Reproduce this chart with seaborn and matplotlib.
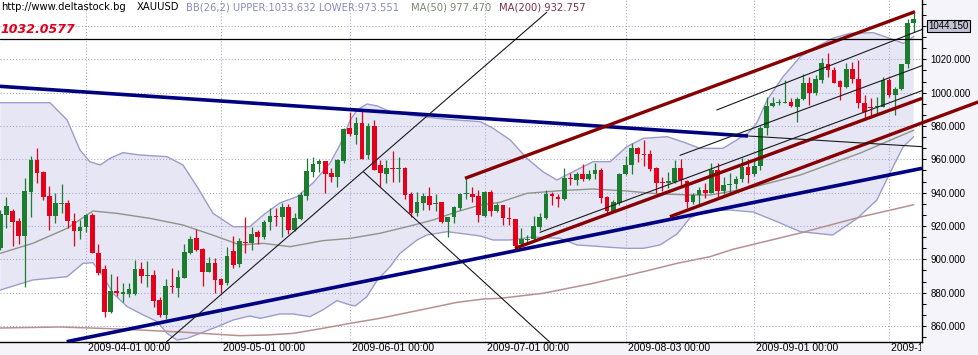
import matplotlib
matplotlib.use("Agg")
import matplotlib.pyplot as plt
import matplotlib.transforms as mtransforms
import numpy as np
import pandas as pd
import seaborn as sns

# ---------------- data ----------------
start_date = "2009-03-12"
n_days = 150

open_ = [906.6, 926.4, 929.0, 923.2, 914.2, 940.6, 959.6, 952.6, 938.0, 926.0,
         933.0, 934.0, 923.2, 917.2, 919.2, 926.6, 904.0, 894.2, 868.4, 881.2,
         879.2, 879.0, 879.0, 894.2, 890.2, 890.6, 875.6, 866.6, 884.0, 883.0,
         889.0, 903.6, 913.0, 906.2, 892.6, 898.0, 888.2, 886.0, 905.0, 897.0,
         910.6, 909.6, 916.6, 913.2, 922.6, 926.0, 925.6, 931.2, 917.6, 924.0,
         938.2, 952.6, 957.0, 959.0, 952.0, 949.6, 959.0, 978.6, 974.6, 981.6,
         962.6, 980.0, 956.6, 951.2, 954.6, 954.0, 954.6, 939.0, 928.0, 934.0,
         938.0, 933.0, 934.2, 922.2, 925.6, 931.0, 939.0, 939.0, 938.0, 926.0,
         940.6, 929.2, 932.6, 924.6, 924.0, 909.2, 911.6, 912.0, 919.6, 924.6,
         939.2, 937.6, 936.2, 948.6, 947.6, 951.2, 948.2, 951.0, 953.6, 937.2,
         929.2, 934.0, 951.0, 956.6, 966.6, 963.2, 963.2, 954.6, 946.6, 945.6,
         946.6, 954.6, 947.0, 934.6, 938.6, 941.6, 940.0, 953.6, 941.0, 944.6,
         945.0, 948.0, 955.6, 951.0, 956.0, 978.6, 992.0, 993.6, 994.0, 994.6,
         991.6, 996.0, 1005.6, 999.6, 1007.6, 1017.2, 1013.6, 1007.0, 1003.2, 1014.0,
         1008.2, 993.6, 991.6, 991.2, 991.6, 1007.6, 998.6, 1002.0, 1017.0, 1041.6]
high_ = [929.6, 937.6, 930.0, 924.6, 948.6, 962.0, 966.6, 953.2, 944.0, 940.0,
         945.2, 935.6, 927.6, 923.6, 927.2, 928.0, 909.0, 896.6, 891.2, 890.2,
         886.0, 886.0, 899.6, 898.2, 899.0, 893.6, 877.6, 888.2, 895.0, 893.6,
         909.2, 914.0, 918.2, 906.6, 901.6, 900.8, 888.6, 907.6, 914.0, 913.0,
         925.6, 919.6, 917.6, 923.6, 930.6, 930.6, 933.6, 933.2, 928.0, 940.6,
         961.0, 961.2, 960.0, 959.2, 954.6, 960.0, 978.6, 988.6, 985.2, 989.0,
         981.6, 983.6, 959.6, 959.6, 965.0, 961.2, 955.2, 940.6, 940.6, 939.6,
         943.2, 939.0, 934.6, 925.6, 932.0, 939.6, 948.0, 943.6, 941.6, 941.0,
         941.6, 933.6, 932.6, 931.6, 924.4, 918.6, 914.6, 926.0, 927.6, 941.6,
         940.6, 939.2, 954.6, 951.6, 952.6, 957.2, 953.6, 957.6, 954.6, 938.0,
         935.6, 952.0, 962.0, 969.6, 967.6, 971.6, 965.6, 955.2, 949.2, 952.6,
         959.6, 960.0, 947.6, 940.0, 943.6, 945.6, 957.6, 957.6, 949.6, 951.6,
         950.0, 960.6, 960.0, 960.0, 980.0, 997.6, 997.2, 996.0, 1007.6, 997.0,
         997.6, 1011.2, 1009.6, 1010.6, 1020.6, 1024.0, 1015.6, 1007.6, 1018.0, 1018.6,
         1019.6, 998.6, 996.6, 997.6, 1009.2, 1008.6, 1003.2, 1017.2, 1044.0, 1048.0]
low_ = [905.6, 918.6, 908.2, 909.2, 883.6, 925.6, 946.0, 935.6, 917.6, 921.6,
        927.6, 918.6, 908.2, 912.0, 916.6, 903.6, 890.6, 865.2, 867.6, 878.2,
        874.6, 877.6, 878.6, 885.6, 883.6, 871.6, 865.6, 864.2, 879.6, 877.6,
        888.6, 903.2, 905.2, 884.2, 892.2, 880.0, 880.0, 884.4, 895.0, 895.5,
        904.0, 905.6, 909.2, 912.0, 917.6, 920.2, 913.6, 915.2, 917.2, 923.6,
        935.6, 949.6, 952.6, 939.6, 946.6, 943.6, 957.6, 974.0, 969.2, 960.2,
        960.2, 953.6, 943.6, 946.0, 946.6, 946.6, 936.2, 925.6, 926.2, 929.6,
        929.6, 929.2, 922.0, 913.2, 922.0, 929.6, 936.0, 934.6, 922.6, 925.6,
        926.0, 928.6, 920.6, 920.6, 906.0, 908.0, 909.6, 911.6, 917.6, 924.0,
        932.6, 931.2, 935.6, 944.6, 944.6, 947.2, 947.6, 948.0, 934.0, 926.6,
        928.6, 932.6, 950.6, 951.0, 958.6, 956.0, 953.2, 940.0, 941.0, 942.6,
        945.6, 944.6, 930.6, 933.2, 933.2, 936.6, 939.6, 937.6, 939.0, 939.6,
        942.0, 946.6, 945.6, 950.0, 953.6, 974.6, 991.6, 992.6, 993.6, 991.6,
        982.6, 995.6, 992.6, 998.6, 1006.0, 1009.6, 1005.6, 995.6, 1002.6, 1005.6,
        990.6, 984.6, 985.6, 986.6, 991.2, 997.6, 986.6, 1001.6, 1014.6, 1036.2]
close_ = [927.2, 932.0, 922.6, 914.2, 941.0, 959.6, 951.6, 937.6, 926.0, 934.0,
          933.6, 923.2, 917.2, 919.6, 926.6, 904.0, 891.6, 868.6, 881.2, 880.0,
          880.4, 882.0, 894.2, 890.2, 890.6, 875.0, 866.6, 884.0, 883.2, 889.2,
          904.2, 912.0, 905.6, 892.6, 897.6, 887.6, 884.6, 902.2, 896.6, 911.0,
          910.0, 915.2, 913.2, 922.6, 926.0, 925.6, 931.6, 917.6, 924.6, 938.6,
          953.2, 957.2, 959.2, 951.2, 949.6, 959.6, 978.0, 975.0, 981.6, 960.2,
          980.0, 953.6, 951.6, 954.6, 954.0, 954.6, 938.6, 928.0, 934.2, 938.0,
          932.6, 933.6, 922.2, 925.6, 931.2, 939.0, 939.6, 937.6, 926.6, 940.6,
          929.2, 932.6, 924.6, 924.0, 908.0, 912.0, 912.2, 920.0, 925.6, 939.2,
          938.0, 936.0, 948.6, 948.0, 951.2, 948.0, 951.2, 953.6, 936.6, 929.2,
          934.6, 951.2, 956.6, 966.6, 963.0, 962.8, 954.0, 946.0, 945.6, 947.0,
          954.6, 947.6, 934.6, 938.6, 941.6, 940.0, 953.6, 941.2, 944.6, 945.2,
          948.2, 955.6, 950.6, 956.2, 978.6, 992.0, 993.6, 994.6, 994.6, 992.0,
          996.2, 1006.0, 999.6, 1008.0, 1017.6, 1013.6, 1006.0, 1003.6, 1014.0, 1008.0,
          993.6, 988.6, 990.6, 992.0, 1007.6, 998.6, 1002.0, 1017.0, 1042.0, 1044.15]

tick_dates = ["2009-04-01", "2009-05-01", "2009-06-01", "2009-07-01",
              "2009-08-03", "2009-09-01", "2009-10-01"]
tick_labels = [d + " 00:00" for d in tick_dates]
price_ticks = [860, 880, 900, 920, 940, 960, 980, 1000, 1020]
grid_prices = [860, 880, 900, 920, 940, 960, 980, 1000, 1020, 1040]

# Bollinger bands (26,2)
ub_x = [0, 8.1, 10.9, 13.0, 14.6, 16.3, 17.9, 20.0, 22.8, 27.2,
        29.8, 32.1, 34.7, 38.0, 40.7, 42.9, 45.6, 48.4, 51.0, 53.8,
        55.4, 57.1, 58.2, 59.8, 61.5, 63.6, 68.0, 72.9, 78.3, 80.4,
        83.2, 85.9, 88.5, 90.8, 92.9, 96.7, 99.5, 102.2, 104.9, 108.8,
        112.0, 114.1, 117.9, 122.0, 123.4, 125.1, 127.7, 130.5, 133.2, 135.8,
        138.6, 142.4, 145.1, 147.3, 149]
ub_y = [994.0, 994.0, 983.6, 965.6, 958.6, 956.6, 960.6, 964.0, 962.6, 961.6,
        956.6, 943.6, 927.6, 919.6, 919.6, 926.6, 933.8, 937.6, 945.8, 957.8,
        968.6, 983.6, 989.6, 993.2, 992.0, 988.6, 986.0, 984.0, 982.6, 978.6,
        971.6, 960.6, 952.6, 947.6, 951.6, 958.6, 958.6, 967.6, 972.6, 973.6,
        969.6, 966.6, 966.6, 975.8, 981.8, 995.6, 1009.6, 1021.6, 1027.6, 1032.6,
        1035.6, 1036.0, 1032.6, 1029.6, 1033.632]
lb_x = [0, 5.3, 10.9, 13.5, 15.1, 16.8, 18.4, 20.7, 22.8, 25.6,
        27.2, 28.8, 30.5, 32.6, 35.4, 38.0, 40.7, 42.4, 45.6, 47.8,
        50.5, 52.6, 54.9, 57.1, 57.9, 59.8, 61.5, 63.6, 65.2, 68.0,
        69.6, 72.9, 75.0, 78.3, 80.4, 83.2, 86.9, 91.3, 94.1, 96.7,
        99.5, 102.2, 104.9, 107.6, 110.4, 112.5, 115.0, 119.0, 122.8, 126.7,
        130.5, 135.8, 139.8, 143.0, 145.1, 147.3, 149]
lb_y = [881.6, 887.6, 889.6, 897.6, 898.0, 889.6, 879.6, 871.6, 867.6, 862.6,
        855.6, 851.6, 852.6, 855.6, 859.6, 863.6, 866.0, 864.6, 867.2, 867.2,
        865.6, 869.6, 875.2, 872.6, 872.0, 877.6, 887.6, 895.6, 903.6, 911.6,
        914.6, 916.6, 915.6, 914.0, 911.6, 911.6, 913.4, 912.6, 908.6, 908.0,
        907.2, 906.6, 906.6, 908.6, 915.2, 924.8, 929.0, 929.6, 928.4, 922.6,
        916.6, 914.6, 924.6, 935.6, 951.6, 967.6, 973.551]

ma50_x = [0, 5.3, 10.9, 15.1, 19.0, 24.4, 29.8, 35.4, 39.1, 42.9,
          47.3, 52.6, 57.1, 61.9, 66.4, 70.6, 74.5, 78.3, 81.5, 85.9,
          91.3, 96.7, 102.2, 107.6, 113.0, 115.8, 122.3, 130.5, 140.3, 149]
ma50_y = [903.6, 909.6, 918.6, 929.0, 927.6, 924.6, 920.6, 913.6, 908.6, 909.6,
          907.6, 911.2, 912.6, 915.6, 919.6, 923.6, 928.6, 932.6, 934.2, 939.6,
          941.2, 942.2, 941.0, 939.2, 938.6, 938.6, 942.8, 950.6, 963.8, 977.47]
ma200_x = [0, 9.7, 19.5, 29.3, 39.1, 43.5, 47.8, 52.6, 57.1, 61.9,
           66.4, 70.6, 74.5, 78.8, 81.5, 88.5, 96.7, 104.9, 110.4, 115.8,
           119.5, 130.5, 140.3, 149]
ma200_y = [858.8, 859.4, 858.2, 856.4, 854.2, 854.6, 855.6, 858.6, 861.6, 864.6,
           868.0, 871.2, 874.2, 876.2, 876.6, 879.6, 885.6, 892.6, 897.6, 901.6,
           906.0, 915.8, 925.4, 932.757]

# drawn trend lines: (bar index start, price start, bar index end, price end)
navy_lines = [(-0.05, 1003.8, 121.97, 974.0),
              (10.83, 850.6, 150.36, 954.6)]
maroon_lines = [(75.81, 948.6, 149.22, 1048.6),
                (83.96, 906.6, 150.36, 996.6)]
maroon_ext_lines = [(109.25, 925.6, 159.66, 994.6)]
thin_lines = [(121.97, 974.0, 150.36, 967.6),
              (27.15, 850.6, 89.14, 1048.2),
              (59.22, 952.6, 89.61, 850.4),
              (116.87, 989.6, 150.41, 1038.0),
              (110.88, 962.4, 150.36, 1016.2),
              (88.04, 916.2, 150.36, 1001.2)]
level_price = 1032.0577
last_price = 1044.150

header_site = "http://www.deltastock.bg"
header_symbol = "XAUUSD"
header_bb = "BB(26,2) UPPER:1033.632 LOWER:973.551"
header_ma50 = "MA(50) 977.470"
header_ma200 = "MA(200) 932.757"

# ---------------- styling ----------------
sns.set_style("white")
plt.rcParams['font.family'] = ['DejaVu Sans']

W, H = 979, 355
GREEN = '#1B7D2D'
RED = '#E5001C'
NAVY = '#000080'
MAROON = '#870000'
GRID = '#A4A4CC'
BAND_FILL = '#E6E6F5'
BAND_LINE = '#9C9CCB'

fig = plt.figure(figsize=(W / 100, H / 100), dpi=100, facecolor='#F4F4FA')
ax = fig.add_axes([0, 13 / H, 922 / W, 342 / H])
ax.set_facecolor('white')

dates = pd.bdate_range(start_date, periods=n_days)
idx = np.arange(n_days)
tick_pos = [dates.get_loc(pd.Timestamp(d)) for d in tick_dates]

ax.set_xlim(-0.049, 150.36)
ax.set_ylim(850.4, 1055.6)

# Bollinger fill
ax.fill(np.r_[ub_x, lb_x[::-1]], np.r_[ub_y, lb_y[::-1]], color=BAND_FILL, lw=0, zorder=0.5)

# grid
for p in grid_prices:
    ax.axhline(p, color=GRID, lw=0.75, ls=(0, (1, 2)), zorder=1)
for t in tick_pos:
    ax.axvline(t, color=GRID, lw=0.75, ls=(0, (1, 2)), zorder=1)

# indicator curves
sns.lineplot(x=ub_x, y=ub_y, ax=ax, color=BAND_LINE, lw=1.0, sort=False, zorder=2)
sns.lineplot(x=lb_x, y=lb_y, ax=ax, color=BAND_LINE, lw=1.0, sort=False, zorder=2)
sns.lineplot(x=ma50_x, y=ma50_y, ax=ax, color='#8F9488', lw=1.0, sort=False, zorder=2)
sns.lineplot(x=ma200_x, y=ma200_y, ax=ax, color='#B99092', lw=1.1, sort=False, zorder=2)

# candles
o = np.array(open_); c = np.array(close_)
hi = np.array(high_); lo = np.array(low_)
cols = np.where(c >= o, GREEN, RED)
ax.vlines(idx, lo, hi, colors=cols, lw=0.9, zorder=4)
body_bottom = np.minimum(o, c)
body_h = np.maximum(np.abs(c - o), 0.6)
ax.bar(idx, body_h, bottom=body_bottom, width=0.76, color=cols, lw=0, zorder=5)

# trend lines
for x0, y0, x1, y1 in navy_lines:
    ax.plot([x0, x1], [y0, y1], color=NAVY, lw=2.6, solid_capstyle='butt', zorder=6)
for x0, y0, x1, y1 in maroon_lines:
    ax.plot([x0, x1], [y0, y1], color=MAROON, lw=2.4, solid_capstyle='butt', zorder=6)
for x0, y0, x1, y1 in maroon_ext_lines:
    ax.plot([x0, x1], [y0, y1], color=MAROON, lw=2.4, solid_capstyle='butt', zorder=6,
            clip_on=False)
for x0, y0, x1, y1 in thin_lines:
    ax.plot([x0, x1], [y0, y1], color='#1A1A1A', lw=0.8, zorder=6)
ax.axhline(level_price, color='black', lw=0.9, zorder=6)

# spines / ticks
for s in ['left', 'top']:
    ax.spines[s].set_visible(False)
for s in ['right', 'bottom']:
    ax.spines[s].set_visible(True)
    ax.spines[s].set_color('black')
    ax.spines[s].set_linewidth(1.0)

ax.yaxis.tick_right()
ax.set_yticks(price_ticks)
ax.set_yticklabels([f"{v:.3f}" for v in price_ticks], family='Liberation Sans', fontsize=7)
minor = [850 + 10 / 3 + k * 20 / 3 for k in range(31)]
ax.set_yticks([m for m in minor if 850.4 < m < 1055.6], minor=True)
ax.tick_params(axis='y', which='both', direction='out', length=3, width=0.75,
               colors='black', pad=3, right=True, left=False)
ax.set_xticks(tick_pos)
ax.set_xticklabels([])
ax.tick_params(axis='x', direction='out', length=2.5, width=0.75, colors='#888899')
ax.set_xlabel('')
ax.set_ylabel('')

# date labels (clipped at the right axis like the original)
clip = mtransforms.TransformedBbox(mtransforms.Bbox.from_extents(0, 0, 921 / W, 1),
                                   fig.transFigure)
trans = mtransforms.blended_transform_factory(ax.transData, fig.transFigure)
off = mtransforms.ScaledTranslation(2 / 100, 0, fig.dpi_scale_trans)
for tp, lab in zip(tick_pos, tick_labels):
    t = fig.text(tp, 1 - 348 / H, lab, transform=trans + off, ha='left', va='center',
                 fontsize=7.5, family='Liberation Sans', color='black')
    t.set_clip_box(clip)
    t.set_clip_on(True)

# header texts
hy = 1 - 7.5 / H
fig.text(1 / W, hy, header_site, fontsize=7.2, color='black', va='center')
fig.text(137 / W, hy, header_symbol, fontsize=7.2, color='black', va='center')
fig.text(186 / W, hy, header_bb, fontsize=7.2, color='#8A8ABD', va='center')
fig.text(411 / W, hy, header_ma50, fontsize=7.2, color='#7E8A70', va='center')
fig.text(499 / W, hy, header_ma200, fontsize=7.2, color='#7A2F4E', va='center')

fig.text(0 / W, 1 - 29.5 / H, f"{level_price:.4f}", fontsize=9, color='#E0001B',
         fontweight='bold', fontstyle='italic', va='center')

fig.text(948.3 / W, 1 - 25.8 / H, f"{last_price:.3f}", ha='center', va='center',
         fontsize=7, family='Liberation Sans', color='black',
         bbox=dict(boxstyle='square,pad=0.12', fc='#C3C3D6', ec='black', lw=0.8))

fig.savefig('out.png', dpi=100, facecolor=fig.get_facecolor())
